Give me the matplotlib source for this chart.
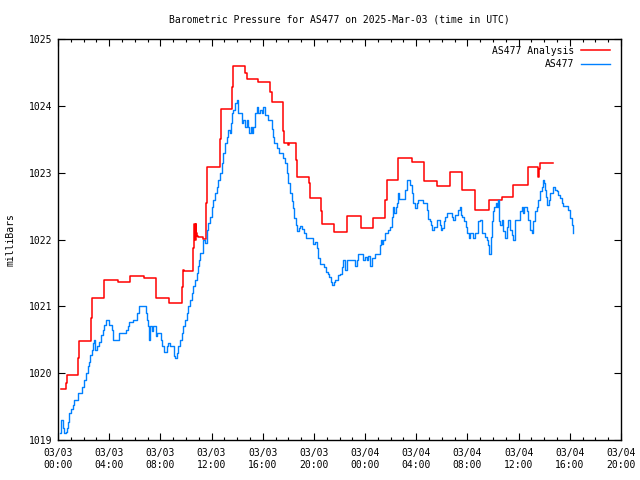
import matplotlib
matplotlib.use("Agg")
import matplotlib.pyplot as plt
from matplotlib.ticker import MultipleLocator, FixedLocator

plt.rcParams['font.family'] = ['DejaVu Sans Mono']

# hours since 2025-03-03 00:00 UTC
analysis_hours = [0.21, 0.60, 0.73, 1.59, 1.67, 2.58, 2.68, 3.62, 4.66, 5.63,
                  6.75, 7.63, 8.67, 9.66, 9.74, 9.85, 10.58, 10.63, 10.70, 10.76,
                  10.82, 10.88, 10.97, 11.36, 11.54, 11.67, 12.66, 12.74, 13.62, 13.70,
                  14.64, 14.75, 15.66, 16.59, 16.73, 17.58, 17.69, 17.95, 18.08, 18.63,
                  18.70, 19.59, 19.69, 20.55, 20.66, 21.60, 22.61, 23.65, 24.65, 25.58,
                  25.69, 26.60, 27.64, 28.63, 29.65, 30.66, 31.60, 32.62, 33.66, 34.70,
                  35.59, 36.71, 37.54, 37.62, 37.70, 38.71]
analysis_mb = [1019.77, 1019.85, 1019.98, 1020.22, 1020.48, 1020.82, 1021.13, 1021.39, 1021.36, 1021.46,
               1021.42, 1021.13, 1021.05, 1021.29, 1021.54, 1021.53, 1021.87, 1022.23, 1021.99, 1022.23,
               1022.09, 1022.05, 1022.04, 1022.01, 1022.54, 1023.08, 1023.51, 1023.96, 1024.28, 1024.60,
               1024.49, 1024.40, 1024.35, 1024.21, 1024.06, 1023.63, 1023.45, 1023.41, 1023.45, 1023.19,
               1022.94, 1022.84, 1022.62, 1022.43, 1022.23, 1022.11, 1022.35, 1022.17, 1022.32, 1022.59,
               1022.89, 1023.22, 1023.16, 1022.88, 1022.80, 1023.01, 1022.74, 1022.44, 1022.59, 1022.63,
               1022.81, 1023.09, 1022.94, 1023.05, 1023.14, 1023.14]

obs_hours = [0.16, 0.23, 0.36, 0.50, 0.63, 0.70, 0.81, 0.89, 1.02, 1.15,
             1.28, 1.59, 1.85, 2.06, 2.19, 2.32, 2.40, 2.53, 2.66, 2.76,
             2.84, 2.92, 3.02, 3.23, 3.36, 3.49, 3.62, 3.75, 4.01, 4.19,
             4.33, 4.79, 5.31, 5.45, 5.58, 5.84, 6.15, 6.33, 6.85, 6.93,
             7.01, 7.11, 7.22, 7.32, 7.45, 7.66, 7.76, 8.02, 8.10, 8.31,
             8.49, 8.62, 8.75, 9.07, 9.14, 9.27, 9.40, 9.54, 9.66, 9.80,
             9.93, 10.06, 10.19, 10.32, 10.45, 10.58, 10.71, 10.84, 10.92, 11.02,
             11.10, 11.36, 11.49, 11.62, 11.75, 11.88, 12.01, 12.14, 12.27, 12.40,
             12.53, 12.66, 12.79, 12.92, 13.05, 13.18, 13.31, 13.44, 13.49, 13.57,
             13.70, 13.83, 13.96, 14.09, 14.35, 14.48, 14.61, 14.75, 14.88, 14.95,
             15.06, 15.19, 15.27, 15.40, 15.53, 15.66, 15.79, 15.92, 16.05, 16.18,
             16.44, 16.70, 16.78, 16.88, 17.10, 17.25, 17.61, 17.74, 17.87, 18.00,
             18.13, 18.26, 18.34, 18.44, 18.58, 18.71, 18.84, 18.94, 19.10, 19.25,
             19.38, 19.96, 20.09, 20.22, 20.35, 20.48, 20.82, 20.92, 21.08, 21.21,
             21.34, 21.44, 21.55, 21.65, 21.91, 22.07, 22.17, 22.30, 22.43, 22.56,
             23.21, 23.34, 23.47, 23.86, 23.99, 24.12, 24.25, 24.38, 24.51, 24.77,
             25.16, 25.24, 25.35, 25.43, 25.56, 25.82, 25.95, 26.08, 26.21, 26.29,
             26.39, 26.47, 26.60, 26.68, 27.12, 27.25, 27.51, 27.64, 27.77, 27.90,
             28.03, 28.16, 28.55, 28.81, 28.94, 29.07, 29.15, 29.25, 29.38, 29.59,
             29.85, 29.93, 30.03, 30.16, 30.24, 30.37, 30.76, 30.89, 31.02, 31.29,
             31.42, 31.49, 31.60, 31.75, 31.86, 31.99, 32.09, 32.20, 32.46, 32.59,
             32.85, 32.98, 33.11, 33.37, 33.50, 33.63, 33.71, 33.81, 33.89, 34.02,
             34.10, 34.20, 34.28, 34.36, 34.46, 34.54, 34.67, 34.80, 34.93, 35.06,
             35.19, 35.32, 35.45, 35.58, 35.71, 36.10, 36.23, 36.31, 36.42, 36.62,
             36.75, 36.88, 37.01, 37.15, 37.28, 37.41, 37.54, 37.67, 37.80, 37.87,
             37.98, 38.06, 38.14, 38.24, 38.34, 38.45, 38.71, 38.84, 38.97, 39.10,
             39.23, 39.36, 39.49, 39.88, 40.01, 40.14, 40.22, 40.27]
obs_mb = [1019.10, 1019.30, 1019.18, 1019.10, 1019.12, 1019.18, 1019.27, 1019.40, 1019.47, 1019.52,
          1019.60, 1019.70, 1019.80, 1019.90, 1020.00, 1020.10, 1020.17, 1020.27, 1020.35, 1020.45,
          1020.50, 1020.35, 1020.40, 1020.47, 1020.57, 1020.65, 1020.72, 1020.79, 1020.72, 1020.65,
          1020.50, 1020.60, 1020.65, 1020.70, 1020.77, 1020.80, 1020.90, 1021.00, 1020.90, 1020.80,
          1020.70, 1020.50, 1020.70, 1020.63, 1020.70, 1020.55, 1020.60, 1020.50, 1020.40, 1020.32,
          1020.40, 1020.45, 1020.40, 1020.25, 1020.22, 1020.30, 1020.40, 1020.50, 1020.60, 1020.70,
          1020.80, 1020.90, 1021.00, 1021.10, 1021.20, 1021.30, 1021.40, 1021.50, 1021.60, 1021.70,
          1021.80, 1022.00, 1021.95, 1022.14, 1022.24, 1022.34, 1022.49, 1022.59, 1022.69, 1022.79,
          1022.89, 1022.99, 1023.14, 1023.29, 1023.44, 1023.54, 1023.64, 1023.59, 1023.74, 1023.89,
          1023.94, 1024.04, 1024.09, 1023.89, 1023.74, 1023.79, 1023.69, 1023.79, 1023.69, 1023.59,
          1023.69, 1023.59, 1023.69, 1023.89, 1023.99, 1023.89, 1023.94, 1023.89, 1023.99, 1023.87,
          1023.79, 1023.65, 1023.54, 1023.44, 1023.37, 1023.29, 1023.22, 1023.14, 1022.99, 1022.84,
          1022.69, 1022.57, 1022.47, 1022.32, 1022.22, 1022.12, 1022.17, 1022.20, 1022.15, 1022.09,
          1022.02, 1021.94, 1021.97, 1021.87, 1021.72, 1021.64, 1021.59, 1021.52, 1021.49, 1021.44,
          1021.37, 1021.32, 1021.37, 1021.39, 1021.47, 1021.49, 1021.59, 1021.69, 1021.54, 1021.69,
          1021.60, 1021.69, 1021.79, 1021.69, 1021.74, 1021.69, 1021.76, 1021.60, 1021.72, 1021.79,
          1021.92, 1021.99, 1021.94, 1021.99, 1022.09, 1022.14, 1022.19, 1022.34, 1022.49, 1022.39,
          1022.49, 1022.54, 1022.69, 1022.60, 1022.74, 1022.89, 1022.82, 1022.69, 1022.54, 1022.47,
          1022.54, 1022.59, 1022.54, 1022.44, 1022.30, 1022.27, 1022.22, 1022.14, 1022.19, 1022.29,
          1022.22, 1022.14, 1022.17, 1022.27, 1022.34, 1022.39, 1022.34, 1022.29, 1022.37, 1022.44,
          1022.49, 1022.37, 1022.34, 1022.27, 1022.19, 1022.09, 1022.02, 1022.09, 1022.02, 1022.09,
          1022.27, 1022.29, 1022.09, 1022.04, 1021.99, 1021.92, 1021.79, 1022.04, 1022.27, 1022.42,
          1022.49, 1022.54, 1022.49, 1022.59, 1022.27, 1022.22, 1022.29, 1022.12, 1022.02, 1022.19,
          1022.29, 1022.14, 1022.07, 1021.99, 1022.29, 1022.42, 1022.49, 1022.39, 1022.49, 1022.42,
          1022.29, 1022.14, 1022.10, 1022.27, 1022.42, 1022.49, 1022.59, 1022.72, 1022.79, 1022.89,
          1022.84, 1022.74, 1022.64, 1022.52, 1022.59, 1022.69, 1022.79, 1022.74, 1022.72, 1022.67,
          1022.62, 1022.55, 1022.50, 1022.44, 1022.32, 1022.22, 1022.12, 1022.09]

tick_hours = [0, 4, 8, 12, 16, 20, 24, 28, 32, 36, 40, 44]
tick_labels = ["03/03\n00:00", "03/03\n04:00", "03/03\n08:00", "03/03\n12:00",
               "03/03\n16:00", "03/03\n20:00", "03/04\n00:00", "03/04\n04:00",
               "03/04\n08:00", "03/04\n12:00", "03/04\n16:00", "03/04\n20:00"]
y_ticks = [1019, 1020, 1021, 1022, 1023, 1024, 1025]

fig = plt.figure(figsize=(6.4, 4.8), dpi=100)
ax = fig.add_axes([58/640, 40/480, 563/640, 401/480])

ax.plot(analysis_hours, analysis_mb, color='#ff0000', lw=1.1,
        drawstyle='steps-post', label='AS477 Analysis')
ax.plot(obs_hours, obs_mb, color='#0080ff', lw=1.0,
        drawstyle='steps-post', label='AS477')

ax.set_xlim(0, 44)
ax.set_ylim(1019, 1025)
ax.xaxis.set_major_locator(FixedLocator(tick_hours))
ax.set_xticklabels(tick_labels)
ax.xaxis.set_minor_locator(MultipleLocator(1))
ax.set_yticks(y_ticks)
ax.set_yticklabels([str(v) for v in y_ticks])

ax.tick_params(which='both', direction='in', top=True, right=True,
               labelsize=7, colors='black', width=0.8)
ax.tick_params(which='major', length=5)
ax.tick_params(which='minor', length=2.5)
ax.tick_params(axis='x', pad=6)
ax.tick_params(axis='y', pad=4)
for s in ax.spines.values():
    s.set_linewidth(1.0)

fig.text(339.5/640, 1 - 20/480, "Barometric Pressure for AS477 on 2025-Mar-03 (time in UTC)",
         ha='center', va='center', fontsize=7)
fig.text(11/640, 0.5, "milliBars", rotation=90, ha='center', va='center', fontsize=7)

leg = ax.legend(loc='upper right', frameon=False, markerfirst=False, fontsize=7,
                handlelength=3.0, handletextpad=0.7, labelspacing=0.35,
                borderaxespad=0.3, bbox_to_anchor=(0.993, 1.0))

fig.savefig("out.png", dpi=100)
